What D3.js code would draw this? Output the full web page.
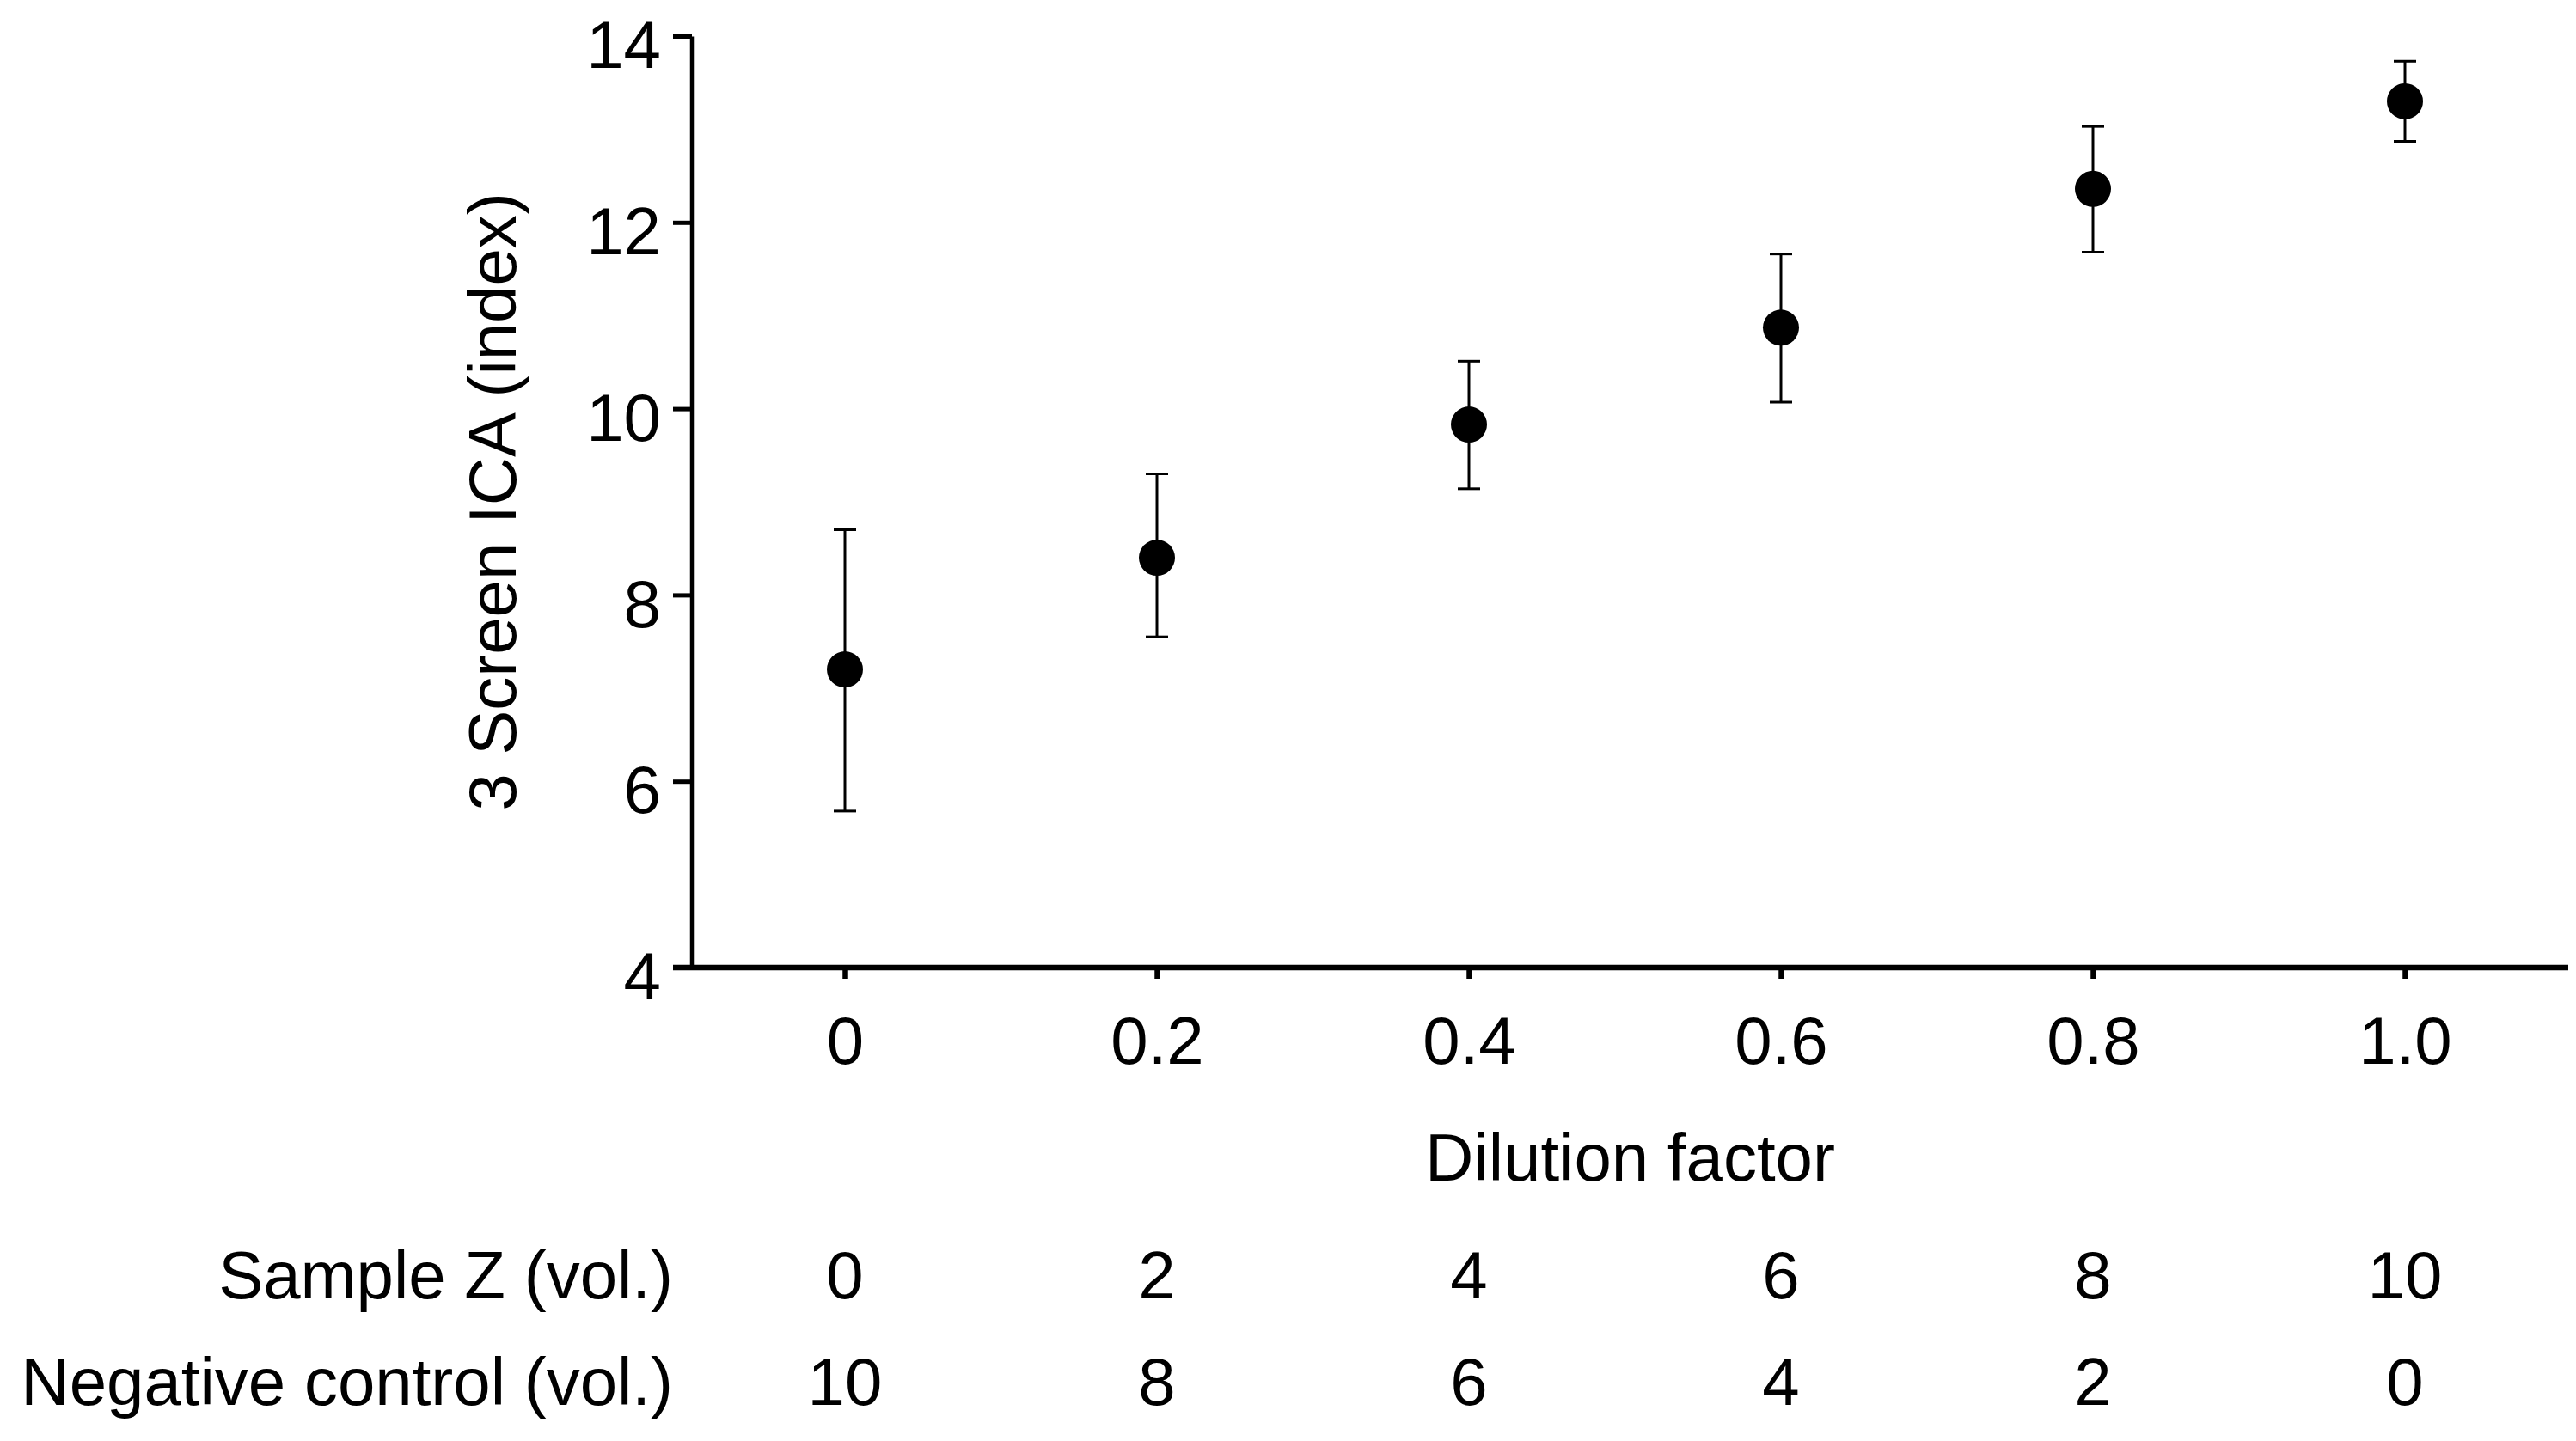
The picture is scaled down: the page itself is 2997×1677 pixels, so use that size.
<!DOCTYPE html>
<html>
<head>
<meta charset="utf-8">
<script src="https://cdn.jsdelivr.net/npm/d3@7"></script>
<style>
  body { margin: 0; background: #fff; }
  text { font-family: "Liberation Sans", Arial, sans-serif; fill: #000; }
</style>
</head>
<body>
<div id="chart"></div>
<script>
// Plot constants
const WIDTH = 2997;
const HEIGHT = 1677;

// data
const dilution = [0, 0.2, 0.4, 0.6, 0.8, 1.0];
const meanICA = [7.2, 8.4, 9.83, 10.87, 12.36, 13.3];
const upperICA = [8.7, 9.3, 10.51, 11.66, 13.03, 13.73];
const lowerICA = [5.68, 7.55, 9.14, 10.07, 11.68, 12.87];
const xTickLabels = ["0", "0.2", "0.4", "0.6", "0.8", "1.0"];
const yTicks = [4, 6, 8, 10, 12, 14];
const sampleZ = ["0", "2", "4", "6", "8", "10"];
const negControl = ["10", "8", "6", "4", "2", "0"];
const rowLabels = ["Sample Z (vol.)", "Negative control (vol.)"];

const svg = d3.select("#chart")
  .append("svg")
  .attr("width", WIDTH)
  .attr("height", HEIGHT);

// scales
const x = d3.scaleLinear().domain([-0.1, 1.1]).range([801.5, 2979.5]);
const y = d3.scaleLinear().domain([4, 14]).range([1126, 42]);

const FONT = 78;
const yAxisX = x(-0.1) + 3.5;

// y axis
const yAxis = d3.axisLeft(y)
  .tickValues(yTicks)
  .tickSize(22)
  .tickSizeOuter(0)
  .tickPadding(14);

const gy = svg.append("g")
  .attr("transform", `translate(${yAxisX},0)`)
  .call(yAxis);
gy.select(".domain").attr("stroke-width", 5.5);
gy.selectAll(".tick line").attr("stroke-width", 5);
gy.selectAll(".tick text")
  .attr("font-size", FONT)
  .attr("dy", "0.47em")
  .attr("font-family", "Liberation Sans, Arial, sans-serif");

// x axis
const xAxis = d3.axisBottom(x)
  .tickValues(dilution)
  .tickFormat((d, i) => xTickLabels[i])
  .tickSize(13)
  .tickSizeOuter(0)
  .tickPadding(44);

const gx = svg.append("g")
  .attr("transform", `translate(0,${y(4)})`)
  .call(xAxis);
gx.select(".domain").remove();
gx.selectAll(".tick line").attr("stroke-width", 6.5);
gx.selectAll(".tick text")
  .attr("font-size", FONT)
  .attr("font-family", "Liberation Sans, Arial, sans-serif");

// x axis line, its left end doubles as the tick at 4
svg.append("line")
  .attr("x1", yAxisX - 22)
  .attr("x2", WIDTH - 9)
  .attr("y1", y(4))
  .attr("y2", y(4))
  .attr("stroke", "#000")
  .attr("stroke-width", 6.5);

// axis titles
svg.append("text")
  .attr("x", x(0.5) + 6)
  .attr("y", 1374)
  .attr("text-anchor", "middle")
  .attr("font-size", FONT)
  .text("Dilution factor");

svg.append("text")
  .attr("transform", `translate(600,${(y(4) + y(14)) / 2}) rotate(-90)`)
  .attr("text-anchor", "middle")
  .attr("font-size", FONT)
  .text("3 Screen ICA (index)");

// volume rows under the axis
const rows = [sampleZ, negControl];
const rowY = [1511, 1635];
rows.forEach((vals, r) => {
  svg.append("text")
    .attr("x", 783)
    .attr("y", rowY[r])
    .attr("text-anchor", "end")
    .attr("font-size", FONT)
    .text(rowLabels[r]);
  svg.append("g")
    .selectAll("text")
    .data(vals)
    .join("text")
    .attr("x", (d, i) => x(dilution[i]))
    .attr("y", rowY[r])
    .attr("text-anchor", "middle")
    .attr("font-size", FONT)
    .text(d => d);
});

// error bars
const pts = dilution.map((d, i) => ({x: d, m: meanICA[i], hi: upperICA[i], lo: lowerICA[i]}));
const cap = 13;
const eb = svg.append("g").attr("stroke", "#000").attr("stroke-width", 3);
eb.selectAll(".stem").data(pts).join("line")
  .attr("class", "stem")
  .attr("x1", d => x(d.x)).attr("x2", d => x(d.x))
  .attr("y1", d => y(d.hi)).attr("y2", d => y(d.lo));
eb.selectAll(".capHi").data(pts).join("line")
  .attr("class", "capHi")
  .attr("x1", d => x(d.x) - cap).attr("x2", d => x(d.x) + cap)
  .attr("y1", d => y(d.hi)).attr("y2", d => y(d.hi));
eb.selectAll(".capLo").data(pts).join("line")
  .attr("class", "capLo")
  .attr("x1", d => x(d.x) - cap).attr("x2", d => x(d.x) + cap)
  .attr("y1", d => y(d.lo)).attr("y2", d => y(d.lo));

// points
svg.append("g")
  .selectAll("circle")
  .data(pts)
  .join("circle")
  .attr("cx", d => x(d.x))
  .attr("cy", d => y(d.m))
  .attr("r", 21)
  .attr("fill", "#000");
</script>
</body>
</html>
